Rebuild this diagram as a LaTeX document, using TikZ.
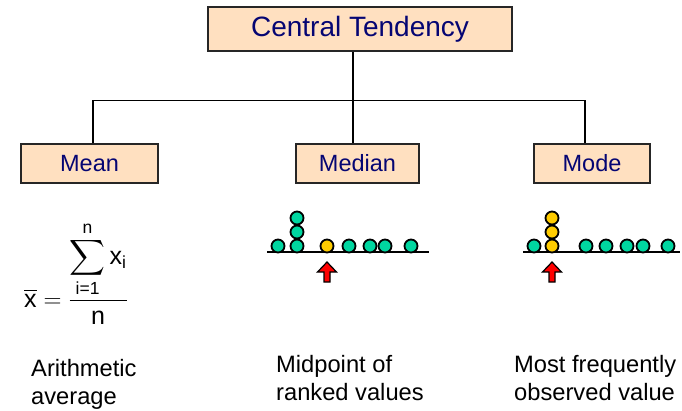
\documentclass[tikz,border=0pt]{standalone}
\usepackage{amsmath}
\usepackage{fontspec}
\setmainfont{Liberation Sans}
\usetikzlibrary{positioning}
\definecolor{boxfill}{RGB}{255,224,192}
\definecolor{boxtext}{RGB}{5,5,115}
\definecolor{dotgreen}{RGB}{0,214,160}
\definecolor{dotyellow}{RGB}{255,204,0}

\begin{document}
\begin{tikzpicture}[x=1pt, y=-1pt,
    topbox/.style={
        draw=black!85, line width=1.2pt, fill=boxfill, text=boxtext,
        minimum width=304pt, minimum height=44pt, inner sep=0pt,
        font=\fontsize{28}{32}\selectfont
    },
    subbox/.style={
        draw=black!85, line width=1.2pt, fill=boxfill, text=boxtext,
        minimum width=#1, minimum height=39pt, inner sep=0pt,
        font=\fontsize{23.5}{28}\selectfont
    },
    conn/.style={line width=1.2pt, black},
    caption/.style={anchor=north west, align=left, inner sep=0pt,
        font=\fontsize{23.7}{28}\selectfont},
    ball/.style={draw=black, line width=1.8pt, fill=#1},
    pointer/.style={draw=black, line width=1.2pt, fill=red}
]
    \useasboundingbox (0,0) rectangle (682,410);

    % Top box
    \node[topbox] (ct) at (360,29) {Central Tendency};

    % Three measures
    \node[subbox=137pt] (mean) at (89.5,163.5) {Mean};
    \node[subbox=123pt] (med) at (357.5,163.5) {Median};
    \node[subbox=116pt] (mode) at (592,163.5) {Mode};

    % Tree connectors
    \draw[conn] ([xshift=-7pt]ct.south) -- ([xshift=-4.5pt]med.north);
    \draw[conn] ([xshift=3.5pt]mean.north) -- ++(0,-43)
        -| ([xshift=-7pt]mode.north);

    % Mean formula
    \node[anchor=base west, inner sep=0pt, font=\fontsize{25}{30}\selectfont]
        (formula) at (24,307)
        {$\overline{\text{x}} = \dfrac{\displaystyle\sum_{\text{i=1}}^{\text{n}}
        \text{x}_{\text{i}}}{\text{n}}$};

    % Median dot plot
    \draw[conn] (267,252) -- (429,252);
    \foreach \x in {278,349,370,385,411}
        \draw[ball=dotgreen] (\x,246) circle (6.5pt);
    \foreach \y in {246,232,218}
        \draw[ball=dotgreen] (297,\y) circle (6.5pt);
    \draw[ball=dotyellow] (327,246) circle (6.5pt);

    % Mode dot plot
    \draw[conn] (523,252) -- (680,252);
    \foreach \x in {534,586,606,627,643,668}
        \draw[ball=dotgreen] (\x,246) circle (6.5pt);
    \foreach \y in {246,232,218}
        \draw[ball=dotyellow] (552,\y) circle (6.5pt);

    % Pointers
    \foreach \x in {327,552}
        \draw[pointer] (\x,262) -- (\x+9.5,272) -- (\x+3,272) -- (\x+3,282)
            -- (\x-3,282) -- (\x-3,272) -- (\x-9.5,272) -- cycle;

    % Captions
    \node[caption] (capmean) at (31,359) {Arithmetic\\average};
    \node[caption] (capmed) at (276,355) {Midpoint of\\ranked values};
    \node[caption] (capmode) at (514,355) {Most frequently\\observed value};
\end{tikzpicture}
\end{document}
